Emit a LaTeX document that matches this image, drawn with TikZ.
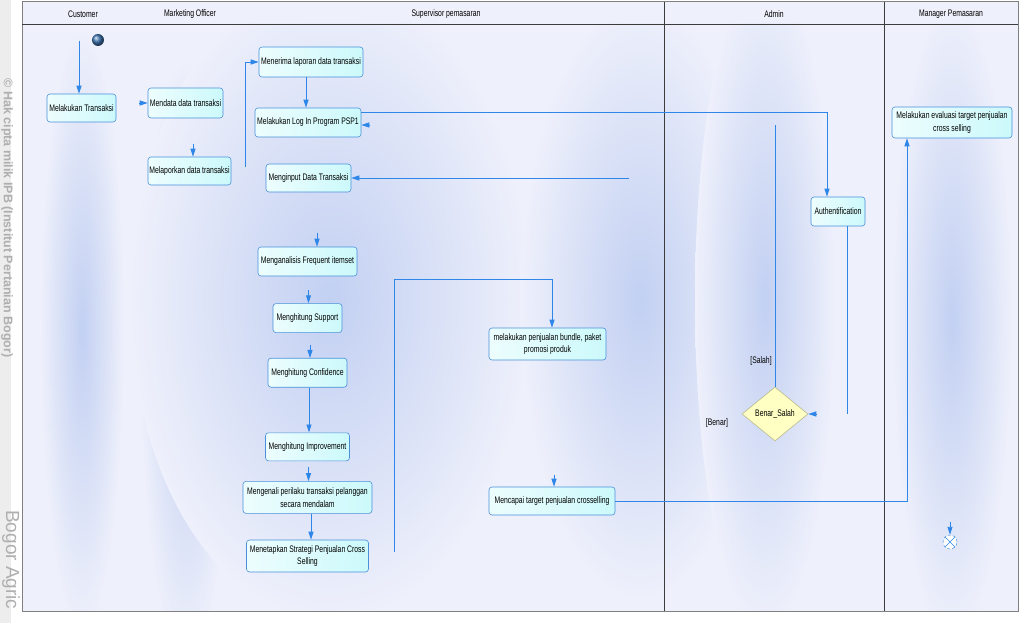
\documentclass[tikz,border=0pt]{standalone}
\usepackage{fontspec}
\setmainfont{Liberation Sans}[FakeStretch=0.72]
\newfontfamily\wmfont{Liberation Sans}
\usepackage{tikz}
\usetikzlibrary{
  arrows.meta,
  positioning,
  shapes.geometric,
  calc
}
\definecolor{lanebg}{RGB}{238,240,251}
\definecolor{streak}{RGB}{194,208,242}
\definecolor{flowblue}{RGB}{46,134,232}
\definecolor{boxedge}{RGB}{74,144,217}
\definecolor{boxfill}{RGB}{204,249,251}
\definecolor{decfill}{RGB}{255,255,196}
\definecolor{decedge}{RGB}{186,186,140}
\definecolor{framegray}{RGB}{128,128,128}
\definecolor{lanedark}{RGB}{60,60,60}
\definecolor{wmgray}{RGB}{175,175,175}
\newcommand{\dgfont}{\fontsize{9.5}{12.5}\selectfont}
\tikzset{
  actbox/.style={draw=boxedge, rounded corners=3pt, line width=0.6pt,
    left color=boxfill!35!white, right color=boxfill,
    align=center, inner sep=1pt, font=\dgfont},
  decbox/.style={diamond, draw=decedge, fill=decfill, line width=0.6pt,
    inner sep=0pt, minimum width=66pt, minimum height=54pt, font=\dgfont},
  lanehead/.style={font=\dgfont},
  guard/.style={font=\dgfont},
  arr/.style={-{Triangle[length=8pt,width=5pt]}, line width=0.9pt, flowblue},
  flow/.style={line width=0.9pt, flowblue},
}

\begin{document}
\begin{tikzpicture}[
  x=1pt, y=-1pt,
  wmark/.style={text=wmgray, inner sep=0pt},
  node distance=20pt
]
  \useasboundingbox (0,0) rectangle (1026,623);
  \fill[white] (0,0) rectangle (1026,623);
  \fill[black!7] (0,0) rectangle (11,623);

  % Watermark
  \node[wmark, rotate=-90, font=\wmfont\bfseries\fontsize{12.5}{14}\selectfont] (wm1)
    at (7,218) {© Hak cipta milik IPB (Institut Pertanian Bogor)};
  \node[wmark, rotate=-90, anchor=west, font=\wmfont\fontsize{19}{22}\selectfont] (wm2)
    at (11,510) {Bogor Agric};

  % Swimlanes
  \fill[lanebg] (22,2) rectangle (1018,611);
  \begin{scope}
    \clip (22,24) rectangle (1018,611);
    \shade[inner color=streak, outer color=lanebg] (82,330) ellipse (42 and 300);
    \shade[inner color=streak, outer color=lanebg] (186,360) ellipse (46 and 300);
    \shade[inner color=streak, outer color=lanebg] (330,300) ellipse (200 and 320);
    \shade[inner color=streak, outer color=lanebg] (640,300) ellipse (120 and 300);
    \shade[inner color=streak, outer color=lanebg] (765,300) ellipse (70 and 330);
    \shade[inner color=streak, outer color=lanebg] (952,320) ellipse (60 and 320);
  \end{scope}
  \draw[framegray, line width=1pt] (22,2) rectangle (1018,611);
  \draw[lanedark, line width=0.8pt] (22,24) -- (1018,24);
  \draw[lanedark, line width=0.8pt] (664,2) -- (664,611);
  \draw[lanedark, line width=0.8pt] (884,2) -- (884,611);

  \node[lanehead] (hcu) at (83,14) {Customer};
  \node[lanehead] (hmo) at (190,14) {Marketing Officer};
  \node[lanehead] (hsp) at (446,14) {Supervisor pemasaran};
  \node[lanehead] (had) at (774,14) {Admin};
  \node[lanehead] (hmp) at (951,14) {Manager Pemasaran};

  % Customer and marketing officer
  \node[circle, inner sep=0pt, minimum size=12pt, shading=ball,
    ball color=boxedge!80!black] (init) at (98,40) {};
  \node[actbox, minimum width=69pt, minimum height=28pt] (mt)
    at (81.5,108) {Melakukan Transaksi};
  \node[actbox, minimum width=75pt, minimum height=30pt] (md)
    at (185.5,103) {Mendata data transaksi};
  \node[actbox, minimum width=83pt, minimum height=28pt] (ml)
    at (189.5,171) {Melaporkan data transaksi};

  % Supervisor pemasaran
  \node[actbox, minimum width=104pt, minimum height=30pt] (mr)
    at (311,62) {Menerima laporan data transaksi};
  \node[actbox, minimum width=106pt, minimum height=29pt] (lg)
    at (308,122.5) {Melakukan Log In Program PSP1};
  \node[actbox, minimum width=85pt, minimum height=28pt] (mi)
    at (308.5,178) {Menginput Data Transaksi};
  \node[actbox, minimum width=99pt, minimum height=29pt] (fi)
    at (307.5,261.5) {Menganalisis Frequent itemset};
  \node[actbox, minimum width=69pt, minimum height=29pt, below=27pt of fi] (sp)
    {Menghitung Support};
  \node[actbox, minimum width=79pt, minimum height=29pt, below=25pt of sp] (cf)
    {Menghitung Confidence};
  \node[actbox, minimum width=84pt, minimum height=28pt, below=45pt of cf] (im)
    {Menghitung Improvement};
  \node[actbox, minimum width=129pt, minimum height=32pt, below=20pt of im] (pl)
    {Mengenali perilaku transaksi pelanggan\\secara mendalam};
  \node[actbox, minimum width=122pt, minimum height=32pt, below=26pt of pl] (st)
    {Menetapkan Strategi Penjualan Cross\\Selling};
  \node[actbox, minimum width=117pt, minimum height=32pt] (bd)
    at (547.5,344) {melakukan penjualan bundle, paket\\promosi produk};
  \node[actbox, minimum width=126pt, minimum height=28pt] (tg)
    at (552,501) {Mencapai target penjualan crosselling};

  % Admin
  \node[actbox, minimum width=54pt, minimum height=29pt] (au)
    at (838,211.5) {Authentification};
  \node[decbox] (dec) at (775,414) {Benar\_Salah};
  \node[guard] (gs) at (761,361) {[Salah]};
  \node[guard] (gb) at (717,423) {[Benar]};

  % Manager pemasaran
  \node[actbox, minimum width=120pt, minimum height=31pt] (ev)
    at (952,122.5) {Melakukan evaluasi target penjualan\\cross selling};
  \node[circle, draw=flowblue, densely dashed, fill=white, inner sep=0pt,
    minimum size=14pt] (fin) at (950,542) {};
  \draw[flowblue, line width=0.6pt] (fin.45) -- (fin.225) (fin.135) -- (fin.315);

  % Free ends
  \coordinate (cu) at (79,41);
  \coordinate (lp) at (245,167);
  \coordinate (sl) at (775,125);
  \coordinate (bn) at (629,178);
  \coordinate (sv) at (394,552);
  \coordinate (sv2) at (394,279);

  % Flows
  \draw[arr] (cu) -- (cu |- mt.north);
  \draw[arr] ([xshift=-9pt]md.west) -- (md.west);
  \draw[arr] ([xshift=3.5pt,yshift=13pt]ml.north) -- ([xshift=3.5pt]ml.north);
  \draw[arr] (lp) |- (mr.west);
  \draw[arr] ([xshift=-5pt]mr.south) -- ([xshift=-5pt]mr.south |- lg.north);
  \draw[arr] ([yshift=10.5pt]lg.east) -| ([xshift=-11pt]au.north);
  \draw[flow] ([xshift=9pt]au.south) -- ([xshift=9pt]au.south |- dec.east);
  \draw[arr] ([xshift=9pt]dec.east) -- (dec.east);
  \draw[flow] (dec.north) -- (sl);
  \draw[arr] ([xshift=9pt,yshift=-2.5pt]lg.east) -- ([yshift=-2.5pt]lg.east);
  \draw[arr] (bn) -- (mi.east);
  \draw[arr] ([xshift=9.5pt,yshift=14pt]fi.north) -- ([xshift=9.5pt]fi.north);
  \draw[arr] ([xshift=1pt,yshift=13pt]sp.north) -- ([xshift=1pt]sp.north);
  \draw[arr] ([xshift=2.5pt,yshift=13pt]cf.north) -- ([xshift=2.5pt]cf.north);
  \draw[arr] ([xshift=1.5pt]cf.south) -- ([xshift=1.5pt]cf.south |- im.north);
  \draw[arr] ([xshift=1pt,yshift=14pt]pl.north) -- ([xshift=1pt]pl.north);
  \draw[arr] ([xshift=3.5pt]pl.south) -- ([xshift=3.5pt]pl.south |- st.north);
  \draw[arr] (sv) -- (sv2) -| ([xshift=4.5pt]bd.north);
  \draw[arr] ([xshift=2pt,yshift=12pt]tg.north) -- ([xshift=2pt]tg.north);
  \draw[arr] (tg.east) -| ([xshift=-45pt]ev.south);
  \draw[arr] ([yshift=13pt]fin.north) -- (fin.north);
\end{tikzpicture}
\end{document}
